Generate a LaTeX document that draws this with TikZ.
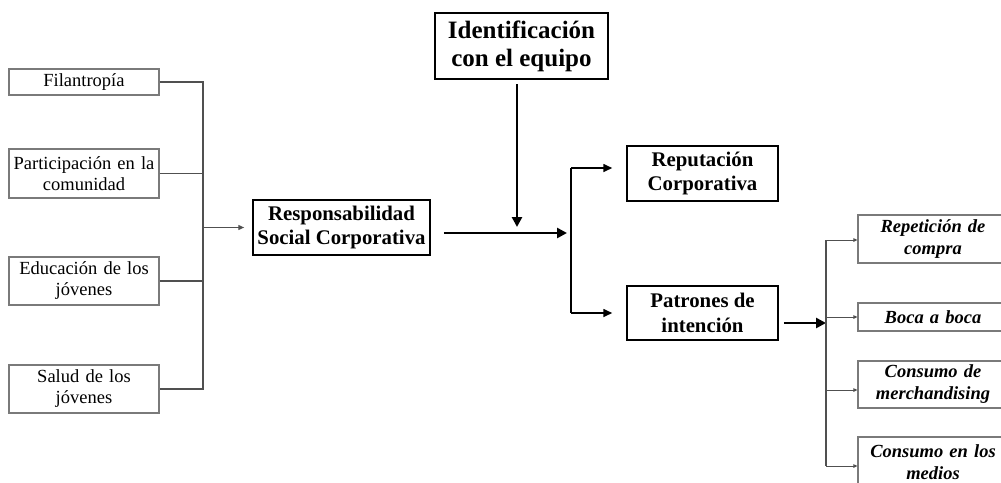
\documentclass[tikz,border=0pt]{standalone}
\usepackage{fontspec}
\setmainfont{Liberation Serif}
\usetikzlibrary{arrows.meta}
\definecolor{boxgray}{HTML}{7A7A7A}
\definecolor{linegray}{HTML}{505050}
\begin{document}
\begin{tikzpicture}[x=1pt,y=-1pt,
  leftbox/.style={draw=boxgray, line width=1.2pt, inner sep=0pt, align=center,
    minimum width=150pt, text width=146pt, font=\fontsize{18.5}{21}\selectfont},
  boldbox/.style={draw=black, line width=1.5pt, inner sep=0pt, align=center,
    font=\bfseries\fontsize{20.8}{24.5}\selectfont},
  identbox/.style={draw=black, line width=2.5pt, inner sep=0pt, align=center,
    font=\bfseries\fontsize{25}{28}\selectfont},
  rightbox/.style={draw=boxgray, line width=1.2pt, inner sep=0pt, align=center,
    minimum width=150pt, text width=146pt, font=\bfseries\itshape\fontsize{18.5}{22}\selectfont},
  thinline/.style={draw=linegray, line width=1.3pt},
  thinarrow/.style={thinline, -{Triangle[length=6pt,width=5pt]}},
  tinyarrow/.style={draw=linegray, line width=1pt, -{Triangle[length=4pt,width=3.5pt]}},
  midline/.style={draw=black, line width=1.6pt},
  midarrow/.style={midline, -{Triangle[length=9pt,width=8pt]}},
  thickarrow/.style={draw=black, line width=2.6pt, -{Triangle[length=10pt,width=10pt]}}
]
\clip (0,0) rectangle (1001,482);
\useasboundingbox (0,0) rectangle (1001,482);

% left boxes
\node[leftbox, minimum height=26pt] (fil) at (84,82) {Filantrop\'ia};
\node[leftbox, minimum height=49pt] (part) at (84,173.5) {Participaci\'on en la\\comunidad};
\node[leftbox, minimum height=48pt] (edu) at (84,281) {Educaci\'on de los\\j\'ovenes};
\node[leftbox, minimum height=48pt] (sal) at (84,389) {Salud de los\\j\'ovenes};

% central boxes
\node[boldbox, minimum width=177pt, minimum height=55pt] (rsc) at (341.5,227.5) {Responsabilidad\\Social Corporativa};
\node[identbox, minimum width=173pt, minimum height=66pt] (ident) at (521.5,46) {Identificaci\'on\\con el equipo};
\node[boldbox, minimum width=151pt, minimum height=55pt] (rep) at (702.5,173.5) {Reputaci\'on\\Corporativa};
\node[boldbox, minimum width=151pt, minimum height=54pt] (pat) at (702.5,313) {Patrones de\\intenci\'on};

% right boxes
\node[rightbox, minimum height=48pt] (rc) at (933,239) {Repetici\'on de\\compra};
\node[rightbox, minimum height=28pt] (bb) at (933,317) {Boca a boca};
\node[rightbox, minimum height=47pt] (cm) at (933,384.5) {Consumo de\\merchandising};
\node[rightbox, minimum height=50pt] (cmed) at (933,462) {Consumo en los\\medios};

% left bus
\coordinate (bx) at (203,0);
\draw[thinline] (fil.east) -- (fil.east -| bx) -- (sal.east -| bx) -- (sal.east);
\draw[thinline] (part.east) -- (part.east -| bx);
\draw[thinline] (edu.east) -- (edu.east -| bx);
\draw[thinarrow, shorten >=8pt] (rsc.west -| bx) -- (rsc.west);

% central arrows
\coordinate (jn) at (571,233);
\coordinate (dn) at (517,227);
\draw[thickarrow, shorten >=4pt] (rsc.east |- jn) ++(13,0) -- (jn);
\draw[thickarrow] (dn |- ident.south) ++(0,4) -- (dn);

% branch
\coordinate (bt) at (571,168);
\coordinate (bb0) at (571,313);
\draw[midline] (bt) -- (bb0);
\draw[midarrow, shorten >=14pt] (bt) -- (bt -| rep.west);
\draw[midarrow, shorten >=14pt] (bb0) -- (bb0 -| pat.west);

% right bus
\coordinate (rj) at (826,323);
\draw[thickarrow] (pat.east |- rj) ++(5,0) -- (rj);
\coordinate (c1) at (826,240);
\coordinate (c2) at (826,317);
\coordinate (c3) at (826,390);
\coordinate (c4) at (826,466);
\draw[thinline] (c1) -- (c4);
\draw[tinyarrow] (c1) -- (c1 -| rc.west);
\draw[tinyarrow] (c2) -- (c2 -| bb.west);
\draw[tinyarrow] (c3) -- (c3 -| cm.west);
\draw[tinyarrow] (c4) -- (c4 -| cmed.west);
\end{tikzpicture}
\end{document}
